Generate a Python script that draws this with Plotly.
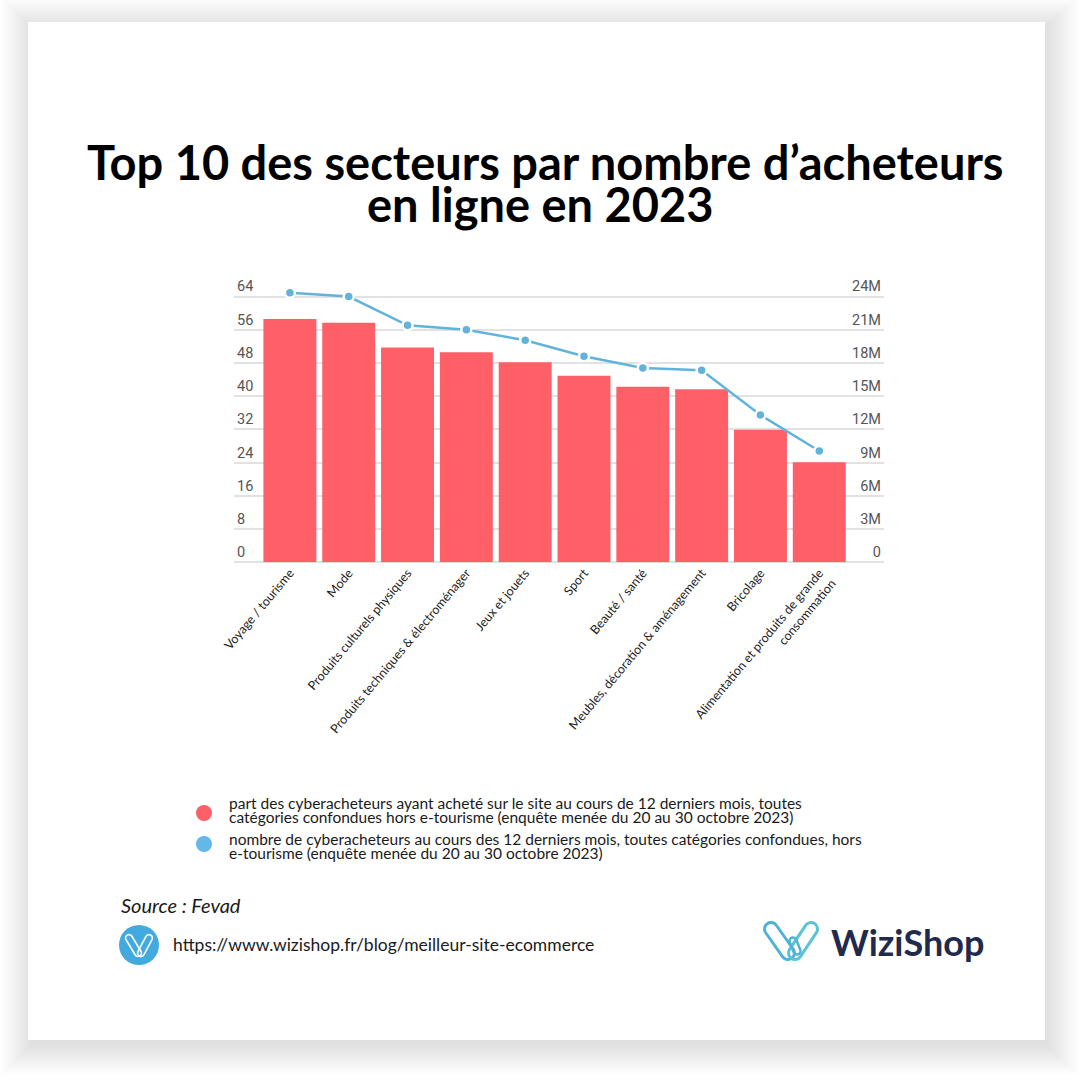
import plotly.graph_objects as go

categories = ["Voyage / tourisme", "Mode", "Produits culturels physiques",
              "Produits techniques &amp; électroménager", "Jeux et jouets", "Sport",
              "Beauté / santé", "Meubles, décoration &amp; aménagement", "Bricolage",
              "Alimentation et produits de grande<br>consommation"]
share_pct = [58.6, 57.7, 51.7, 50.6, 48.2, 44.9, 42.3, 41.7, 31.9, 24.1]
buyers = [24.35e6, 24.0e6, 21.4e6, 21.0e6, 20.05e6, 18.6e6, 17.55e6, 17.35e6, 13.3e6, 10.05e6]
legend_share = ["part des cyberacheteurs ayant acheté sur le site au cours de 12 derniers mois, toutes",
                "catégories confondues hors e-tourisme (enquête menée du 20 au 30 octobre 2023)"]
legend_buyers = ["nombre de cyberacheteurs au cours des 12 derniers mois, toutes catégories confondues, hors",
                 "e-tourisme (enquête menée du 20 au 30 octobre 2023)"]
title_lines = ["Top 10 des secteurs par nombre d’acheteurs", "en ligne en 2023"]

S = 1080.0
RED, BLUE, LEG_BLUE = "#ff5f66", "#62b3dc", "#64b8e8"
BODY = "Lato"


def px(x):
    return x / S


def py(y):
    return 1 - y / S


def capsule(x0, y0, x1, y1, r):
    """SVG path of a pill between two pixel points, in paper coordinates."""
    dx, dy = x1 - x0, y1 - y0
    n = (dx * dx + dy * dy) ** 0.5
    ux, uy = dx / n, dy / n
    nx, ny = -uy, ux
    k = 0.5523 * r

    def P(x, y):
        return f"{px(x):.5f},{py(y):.5f}"
    return ("M" + P(x0 + nx * r, y0 + ny * r) + " L" + P(x1 + nx * r, y1 + ny * r)
            + " C" + P(x1 + nx * r + ux * k, y1 + ny * r + uy * k) + " " + P(x1 + ux * r + nx * k, y1 + uy * r + ny * k) + " " + P(x1 + ux * r, y1 + uy * r)
            + " C" + P(x1 + ux * r - nx * k, y1 + uy * r - ny * k) + " " + P(x1 - nx * r + ux * k, y1 - ny * r + uy * k) + " " + P(x1 - nx * r, y1 - ny * r)
            + " L" + P(x0 - nx * r, y0 - ny * r)
            + " C" + P(x0 - nx * r - ux * k, y0 - ny * r - uy * k) + " " + P(x0 - ux * r - nx * k, y0 - uy * r - ny * k) + " " + P(x0 - ux * r, y0 - uy * r)
            + " C" + P(x0 - ux * r + nx * k, y0 - uy * r + ny * k) + " " + P(x0 + nx * r - ux * k, y0 + ny * r - uy * k) + " " + P(x0 + nx * r, y0 + ny * r) + " Z")


def pshape(path, color, width, fill="rgba(0,0,0,0)"):
    return dict(type="path", xref="paper", yref="paper", path=path, fillcolor=fill,
                line=dict(color=color, width=width), layer="above")


def circle(cx, cy, r, color):
    return dict(type="circle", xref="paper", yref="paper", x0=px(cx - r), x1=px(cx + r),
                y0=py(cy + r), y1=py(cy - r), fillcolor=color, line=dict(width=0), layer="above")


shapes = []
# soft shadow of the white card
for e in range(30, 0, -1):
    shapes.append(dict(type="rect", xref="paper", yref="paper", layer="below",
                       x0=px(28 - e + 3), x1=px(1045 + e + 3), y0=py(1040 + e + 5), y1=py(22 - e + 5),
                       fillcolor="rgba(0,0,0,0.0032)", line=dict(width=0)))
shapes.append(dict(type="rect", xref="paper", yref="paper", layer="below",
                   x0=px(28), x1=px(1045), y0=py(1040), y1=py(22),
                   fillcolor="#ffffff", line=dict(width=0)))
# legend dots
shapes.append(circle(204, 813, 8, RED))
shapes.append(circle(204, 844, 8, LEG_BLUE))
# round icon
shapes.append(circle(139, 945, 20, "#42aade"))
for a in [(129, 938, 138, 953, 3.4), (149, 938, 141, 953, 3.4)]:
    shapes.append(pshape(capsule(*a), "#ffffff", 1.6))
# logo mark
shapes.append(pshape(capsule(771, 929, 788, 953, 6.5), "#4fb2da", 3))
shapes.append(pshape(capsule(811, 929, 795, 953, 6.5), "#5cc2d6", 3))
shapes.append(pshape(capsule(793, 941, 797, 951, 3.5), "#4fb2da", 2.5))

annotations = []


def label(x, y, text, size, color="#1a1a1a", anchor="left", family=BODY):
    annotations.append(dict(xref="paper", yref="paper", x=px(x), y=py(y), text=text, showarrow=False,
                            xanchor=anchor, yanchor="middle", font=dict(family=family, size=size, color=color)))


label(545, 162, f"<b>{title_lines[0]}</b>", 47, "#000000", "center")
label(540, 204, f"<b>{title_lines[1]}</b>", 47, "#000000", "center")
label(227, 803, legend_share[0], 15.5)
label(227, 817, legend_share[1], 15.5)
label(227, 839, legend_buyers[0], 15.5)
label(227, 853, legend_buyers[1], 15.5)
label(119, 905, "<i>Source : Fevad</i>", 20)
label(171, 944, "https://www.wizishop.fr/blog/meilleur-site-ecommerce", 17.5)
label(829, 942, "<b>WiziShop</b>", 36, "#1f2a4d")

fig = go.Figure()
fig.add_bar(x=categories, y=share_pct, name="part des cyberacheteurs", marker=dict(color=RED, line=dict(width=0)),
            width=0.9, yaxis="y")
fig.add_scatter(x=categories, y=buyers, name="nombre de cyberacheteurs", mode="lines+markers", yaxis="y2",
                line=dict(color=BLUE, width=2.5),
                marker=dict(color=BLUE, size=10, line=dict(color="#ffffff", width=2.5)))

tick_font = dict(family="Roboto", size=14.5, color="#555555")
fig.update_layout(
    width=1080, height=1080, margin=dict(l=0, r=0, t=0, b=0, pad=0), paper_bgcolor="#ffffff", plot_bgcolor="rgba(0,0,0,0)",
    showlegend=False, shapes=shapes, annotations=annotations,
    xaxis=dict(domain=[px(234), px(884)], range=[-0.95, 10.1], tickangle=-50, showgrid=False, ticks="", showline=False,
               zeroline=False, automargin=False, tickfont=dict(family=BODY, size=12.5, color="#222222"), ticklen=0,
               categoryorder="array", categoryarray=categories),
    yaxis=dict(domain=[py(562.3), py(263.3)], range=[0, 72], dtick=8, gridcolor="#e2e2e2", gridwidth=1.5,
               zeroline=True, zerolinecolor="#e2e2e2", zerolinewidth=1.5, ticklabelposition="inside top",
               tickfont=tick_font, showline=False, automargin=False),
    yaxis2=dict(overlaying="y", side="right", range=[0, 27e6], dtick=3e6, tickformat="~s", showgrid=False,
                zeroline=False, ticklabelposition="inside top", tickfont=tick_font, showline=False, automargin=False),
)
fig.write_html("out.html", post_script="document.body.style.margin='0';", config=dict(displayModeBar=False))
